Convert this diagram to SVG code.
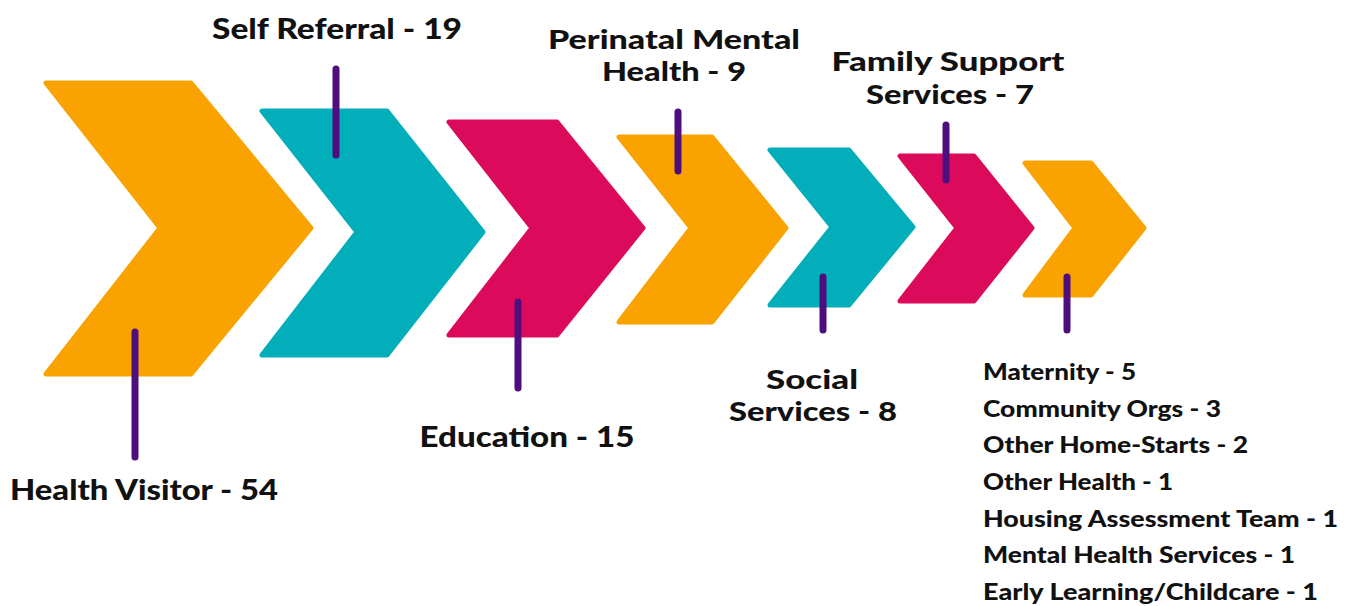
<svg xmlns="http://www.w3.org/2000/svg" width="1356" height="606" viewBox="0 0 1356 606">
<style>
.or{fill:#FAA300;stroke:#FAA300}
.te{fill:#02AEBA;stroke:#02AEBA}
.ma{fill:#DB0A5B;stroke:#DB0A5B}
.chev{stroke-width:5;stroke-linejoin:round}
.tick{stroke:#4E0E7E;stroke-width:7;stroke-linecap:round;fill:none}
.lab{font-family:Lato,"Liberation Sans",sans-serif;font-weight:900;fill:#111;font-size:28px}
.two{font-size:26px}
.lst{font-family:Lato,"Liberation Sans",sans-serif;font-weight:900;fill:#111;font-size:22px}
</style>
<rect width="1356" height="606" fill="#fff"/>
<g id="n1"><path class="chev or" d="M46,83 L191,83 L311,228 L191,374 L46,374 L160,228 Z"/>
<text class="lab" x="10" y="500" textLength="268" lengthAdjust="spacingAndGlyphs">Health Visitor - 54</text></g>
<g id="n2"><path class="chev te" d="M262,111 L387,111 L483,232 L387,355 L262,355 L357,232 Z"/>
<text class="lab" x="337" y="39" text-anchor="middle" textLength="250" lengthAdjust="spacingAndGlyphs">Self Referral - 19</text></g>
<g id="n3"><path class="chev ma" d="M449,122 L557,122 L643,228 L557,335 L449,335 L532,228 Z"/>
<text class="lab" x="527" y="447" text-anchor="middle" textLength="215" lengthAdjust="spacingAndGlyphs">Education - 15</text></g>
<g id="n4"><path class="chev or" d="M619,137 L712,137 L786,228 L712,322 L619,322 L691,228 Z"/>
<text class="lab two" x="674" y="49" text-anchor="middle" textLength="252" lengthAdjust="spacingAndGlyphs">Perinatal Mental</text>
<text class="lab two" x="674" y="81" text-anchor="middle" textLength="144" lengthAdjust="spacingAndGlyphs">Health - 9</text></g>
<g id="n5"><path class="chev te" d="M770,150 L849,150 L913,227 L849,305 L770,305 L832,227 Z"/>
<text class="lab two" x="812" y="389" text-anchor="middle" textLength="92" lengthAdjust="spacingAndGlyphs">Social</text>
<text class="lab two" x="813" y="421" text-anchor="middle" textLength="168" lengthAdjust="spacingAndGlyphs">Services - 8</text></g>
<g id="n6"><path class="chev ma" d="M900,156 L974,156 L1032,228 L974,301 L900,301 L957,228 Z"/>
<text class="lab two" x="948" y="71" text-anchor="middle" textLength="233" lengthAdjust="spacingAndGlyphs">Family Support</text>
<text class="lab two" x="950" y="104" text-anchor="middle" textLength="168" lengthAdjust="spacingAndGlyphs">Services - 7</text></g>
<g id="n7"><path class="chev or" d="M1025,163 L1091,163 L1144,228 L1091,295 L1025,295 L1075,228 Z"/>
<text class="lst" x="983" y="380" textLength="153" lengthAdjust="spacingAndGlyphs">Maternity - 5</text>
<text class="lst" x="983" y="417" textLength="238" lengthAdjust="spacingAndGlyphs">Community Orgs - 3</text>
<text class="lst" x="983" y="453" textLength="265" lengthAdjust="spacingAndGlyphs">Other Home-Starts - 2</text>
<text class="lst" x="983" y="490" textLength="190" lengthAdjust="spacingAndGlyphs">Other Health - 1</text>
<text class="lst" x="983" y="527" textLength="355" lengthAdjust="spacingAndGlyphs">Housing Assessment Team - 1</text>
<text class="lst" x="983" y="563" textLength="312" lengthAdjust="spacingAndGlyphs">Mental Health Services - 1</text>
<text class="lst" x="983" y="600" textLength="335" lengthAdjust="spacingAndGlyphs">Early Learning/Childcare - 1</text></g>
<g id="connectors">
<line class="tick" x1="135" y1="332" x2="135" y2="457"/>
<line class="tick" x1="336" y1="69" x2="336" y2="155"/>
<line class="tick" x1="518" y1="302" x2="518" y2="388"/>
<line class="tick" x1="678" y1="112" x2="678" y2="171"/>
<line class="tick" x1="823" y1="277" x2="823" y2="330"/>
<line class="tick" x1="946" y1="125" x2="946" y2="180"/>
<line class="tick" x1="1067" y1="277" x2="1067" y2="330"/>
</g>
</svg>
